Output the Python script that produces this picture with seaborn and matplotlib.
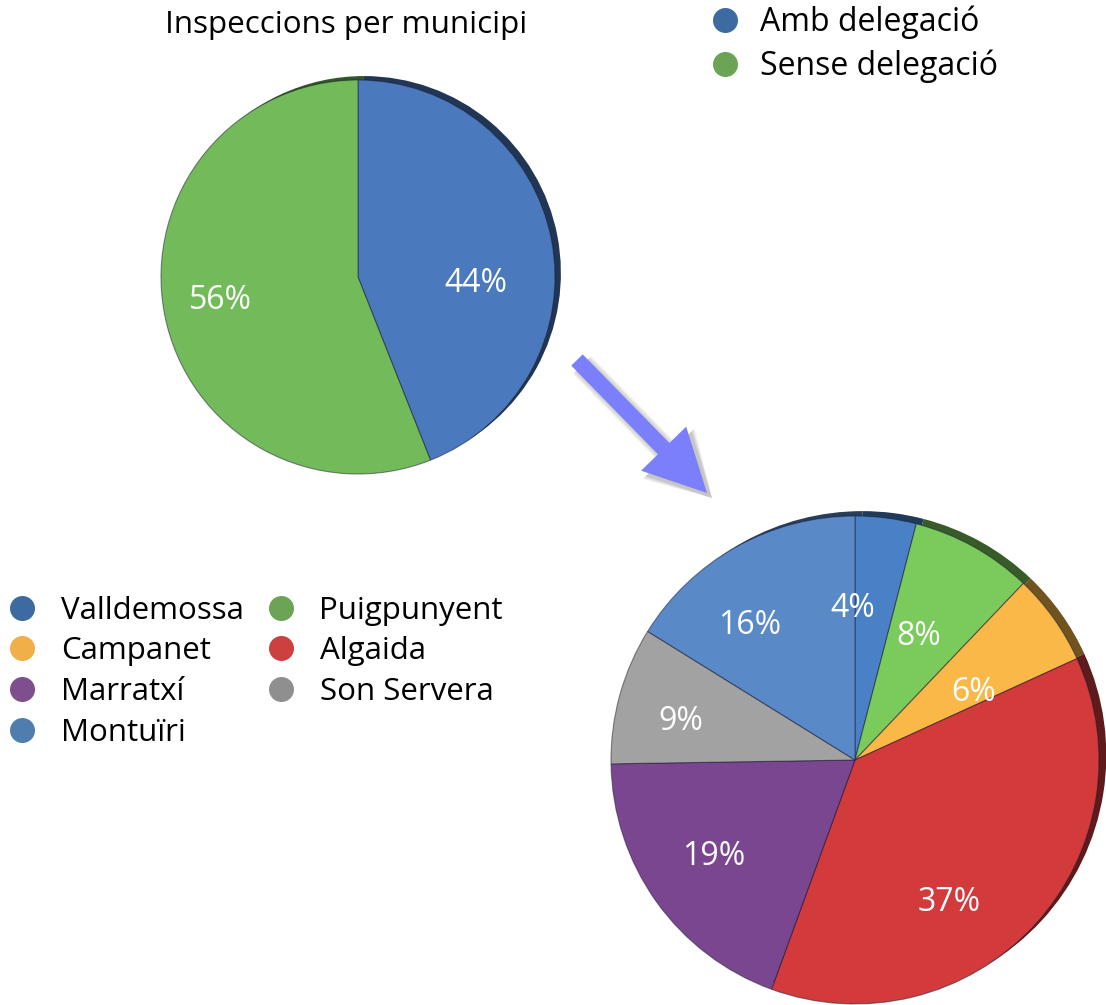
import numpy as np
import pandas as pd
import matplotlib
matplotlib.use("Agg")
import matplotlib.pyplot as plt
import seaborn as sns
from matplotlib.lines import Line2D
from matplotlib.patches import FancyArrow

# data
deleg_labels = ["Amb delegació", "Sense delegació"]
deleg_values = [44, 56]
deleg_colors = ["#4a79bd", "#73bb5a"]
deleg_legend_colors = ["#3d6aa0", "#6aa454"]

muni_labels = ["Valldemossa", "Puigpunyent", "Campanet", "Algaida", "Marratxí", "Son Servera", "Montuïri"]
muni_values = [4, 8, 6, 37, 19, 9, 16]
muni_colors = ["#4a80c6", "#7acb5c", "#fab848", "#d23a3c", "#7b4690", "#a2a2a2", "#5a89c8"]
muni_legend_colors = ["#3d6aa0", "#6aa454", "#efb04a", "#cc4040", "#7e4e8e", "#8f8f8f", "#4f7eac"]

sns.set_theme(style="white")
plt.rcParams['font.family'] = ['Open Sans', 'DejaVu Sans']
plt.rcParams['text.color'] = 'black'

W, H = 1106, 1005
fig = plt.figure(figsize=(W / 100, H / 100), dpi=100)
PAD = 1.05


def pie_axes(cx, cy, r):
    s = r * PAD
    return fig.add_axes([(cx - s) / W, (H - cy - s) / H, 2 * s / W, 2 * s / H])


def darker(c, f=0.45):
    rgb = np.array(matplotlib.colors.to_rgb(c))
    return tuple(rgb * f)


def draw_pie(ax, values, colors, label_r, label_rot, fs):
    # dark rim behind, shifted up-right
    ax.pie(values, colors=[darker(c) for c in colors], startangle=90, counterclock=False,
           center=(0.03, 0.02), radius=1.0, wedgeprops=dict(linewidth=0))
    wedges, _, autotexts = ax.pie(values, colors=colors, startangle=90, counterclock=False,
                                  autopct=lambda p: f"{p:.0f}%", pctdistance=0.6,
                                  wedgeprops=dict(linewidth=0.8, edgecolor=(0.1, 0.1, 0.2, 0.5)),
                                  textprops=dict(color="white", fontsize=fs))
    # nudge labels along / around their wedge
    for t, r, d in zip(autotexts, label_r, label_rot):
        x, y = t.get_position()
        ang = np.arctan2(y, x) + np.radians(d)
        t.set_position((r * np.cos(ang), r * np.sin(ang)))
    ax.set_xlim(-PAD, PAD)
    ax.set_ylim(-PAD, PAD)
    ax.set_aspect("equal")
    ax.axis("off")
    return wedges


ax1 = pie_axes(358, 277, 197)
draw_pie(ax1, deleg_values, deleg_colors, [0.6, 0.71], [-14, -1], 23)

ax2 = pie_axes(855, 760, 244)
draw_pie(ax2, muni_values, muni_colors, [0.62, 0.57, 0.56, 0.70, 0.70, 0.73, 0.70],
         [8, 2, -6, -14, -1, 3, 9], 23)

# overlay in pixel coordinates
ov = fig.add_axes([0, 0, 1, 1], zorder=5)
ov.set_xlim(0, W)
ov.set_ylim(H, 0)
ov.axis("off")
ov.patch.set_alpha(0)

ov.text(346, 25, "Inspeccions per municipi", ha="center", va="center", fontsize=22.6)

# arrow with soft shadow
x0, y0, x1, y1 = 577, 360, 707, 493
for k in range(6):
    ov.add_patch(FancyArrow(x0 + 5, y0 + 5, x1 - x0, y1 - y0, width=16 + 2 * k, head_width=63 + 2 * k,
                            head_length=62, length_includes_head=True, color="black", alpha=0.04, lw=0))
ov.add_patch(FancyArrow(x0, y0, x1 - x0, y1 - y0, width=16, head_width=63, head_length=62,
                        length_includes_head=True, color="#7b7ffc", lw=0))


def handles(labels, colors):
    return [Line2D([], [], marker="o", linestyle="none", markersize=18, markerfacecolor=c,
                   markeredgecolor="none", label=l) for l, c in zip(labels, colors)]


leg1 = ov.legend(handles=handles(deleg_labels, deleg_legend_colors), loc="upper left",
                 bbox_to_anchor=(693 / W, 1 + 10 / H), bbox_transform=fig.transFigure,
                 frameon=False, fontsize=23, handletextpad=0.59, labelspacing=0.31, borderpad=0,
                 handlelength=1.0)
ov.add_artist(leg1)

# bottom-left legend in column order
order = ["Valldemossa", "Campanet", "Marratxí", "Montuïri", "Puigpunyent", "Algaida", "Son Servera"]
col_map = dict(zip(muni_labels, muni_legend_colors))
leg2 = ov.legend(handles=handles(order, [col_map[o] for o in order]), loc="upper left", ncol=2,
                 bbox_to_anchor=(-9 / W, 1 - 580 / H), bbox_transform=fig.transFigure,
                 frameon=False, fontsize=22.5, handletextpad=0.73, labelspacing=0.34, borderpad=0,
                 handlelength=1.0, columnspacing=0.7)

fig.savefig("out.png", dpi=100, facecolor="white")
